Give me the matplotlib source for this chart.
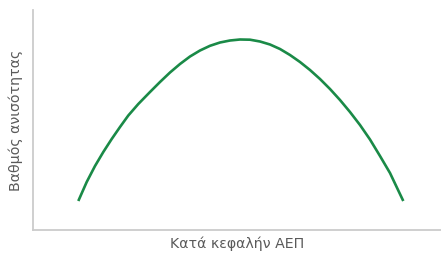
import numpy as np
import matplotlib
matplotlib.use('Agg')
import matplotlib.pyplot as plt

# Kuznets curve, values (arbitrary index units)
gdp = [45.3, 53.7, 62.0, 70.3, 78.7, 87.0, 95.3, 105.3, 117, 127, 137, 147, 157, 167,
       177, 187, 197, 207, 217, 227, 237, 247, 257, 267, 277, 287, 297, 307, 317,
       327, 337, 347, 357, 365.3, 370.3]
inequality = [29, 48, 64, 78, 91, 103, 114.5, 126, 138, 148, 157.5, 166, 173.5, 179.5,
              184.2, 187.5, 189.5, 190.5, 190.3, 188.5, 185.5, 181, 175, 168, 160, 151,
              141, 130, 118, 105, 90.5, 74, 57, 39.5, 29]

xlabel = 'Κατά κεφαλήν ΑΕΠ'
ylabel = 'Βαθμός ανισότητας'

fig = plt.figure(figsize=(4.41, 2.54), dpi=100)
ax = fig.add_axes([33/441, 24/254, 408/441, 220/254])

ax.plot(gdp, inequality, color='#1a8a47', linewidth=1.9,
        solid_capstyle='butt', solid_joinstyle='round')

ax.set_xlim(0, 408)
ax.set_ylim(0, 220)
ax.set_xticks([])
ax.set_yticks([])
for s in ['top', 'right']:
    ax.spines[s].set_visible(False)
for s in ['left', 'bottom']:
    ax.spines[s].set_color('#cccccc')
    ax.spines[s].set_linewidth(1.3)

ax.set_xlabel(xlabel, fontsize=10.2, color='#5a5a5a', labelpad=5)
ax.set_ylabel(ylabel, fontsize=10.2, color='#5a5a5a', labelpad=7)

fig.savefig('out.png', dpi=100)
